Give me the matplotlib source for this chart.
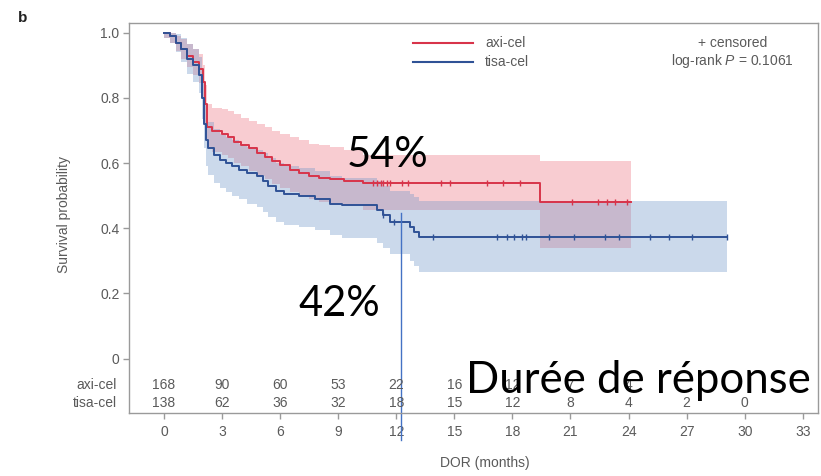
import numpy as np
import matplotlib
matplotlib.use("Agg")
import matplotlib.pyplot as plt

plt.rcParams["font.family"] = ["Liberation Sans", "DejaVu Sans"]
plt.rcParams["mathtext.fontset"] = "custom"
plt.rcParams["mathtext.rm"] = "Liberation Sans"
plt.rcParams["mathtext.it"] = "Liberation Sans:italic"

# Kaplan-Meier step curves (time in months, survival probability) with 95% CI
axi_t = [0, 0.3, 0.6, 0.9, 1.2, 1.5, 1.8, 2.0, 2.1, 2.2, 2.5, 3.0, 3.3, 3.6,
         4.0, 4.4, 4.8, 5.2, 5.6, 6.0, 6.5, 7.0, 7.5, 8.0, 8.6, 9.3, 10.3, 19.4]
axi_s = [1.0, 0.99, 0.97, 0.95, 0.93, 0.91, 0.89, 0.85, 0.78, 0.71, 0.70, 0.69,
         0.68, 0.665, 0.655, 0.645, 0.63, 0.62, 0.605, 0.595, 0.58, 0.57, 0.56,
         0.555, 0.55, 0.545, 0.54, 0.48]
axi_hi = [1.0, 1.0, 0.99, 0.98, 0.965, 0.95, 0.935, 0.90, 0.84, 0.78, 0.77,
          0.765, 0.76, 0.75, 0.74, 0.73, 0.72, 0.71, 0.70, 0.69, 0.68, 0.67,
          0.66, 0.655, 0.65, 0.64, 0.625, 0.605]
axi_lo = [0.985, 0.97, 0.945, 0.92, 0.895, 0.87, 0.845, 0.80, 0.72, 0.645,
          0.635, 0.625, 0.615, 0.60, 0.59, 0.575, 0.56, 0.55, 0.535, 0.525,
          0.51, 0.50, 0.49, 0.48, 0.475, 0.47, 0.455, 0.34]
axi_end = 24.1
axi_cens = [10.8, 11.0, 11.2, 11.3, 11.5, 11.7, 12.3, 12.6, 14.3, 14.8, 16.7,
            17.5, 18.4, 21.1, 22.4, 22.9, 23.3, 23.9]

tisa_t = [0, 0.3, 0.6, 0.9, 1.2, 1.5, 1.8, 1.95, 2.05, 2.15, 2.3, 2.6, 2.9,
          3.2, 3.5, 3.9, 4.3, 4.8, 5.1, 5.4, 5.8, 6.2, 7.0, 7.8, 8.6, 9.2,
          11.0, 11.3, 11.7, 12.7, 12.9, 13.2]
tisa_s = [1.0, 0.99, 0.97, 0.95, 0.92, 0.90, 0.87, 0.80, 0.72, 0.67, 0.645,
          0.625, 0.61, 0.60, 0.59, 0.58, 0.57, 0.56, 0.545, 0.53, 0.515, 0.505,
          0.50, 0.49, 0.475, 0.47, 0.455, 0.44, 0.42, 0.405, 0.39, 0.372]
tisa_hi = [1.0, 1.0, 0.995, 0.985, 0.965, 0.95, 0.925, 0.865, 0.795, 0.75,
           0.725, 0.705, 0.69, 0.68, 0.67, 0.66, 0.65, 0.64, 0.63, 0.615, 0.60,
           0.59, 0.585, 0.575, 0.56, 0.555, 0.545, 0.53, 0.515, 0.505, 0.495,
           0.485]
tisa_lo = [0.985, 0.97, 0.94, 0.91, 0.875, 0.85, 0.815, 0.735, 0.645, 0.59,
           0.565, 0.54, 0.525, 0.51, 0.50, 0.49, 0.475, 0.465, 0.45, 0.435,
           0.42, 0.41, 0.405, 0.395, 0.38, 0.37, 0.355, 0.34, 0.32, 0.30,
           0.285, 0.267]
tisa_end = 29.1
tisa_cens = [11.3, 11.9, 13.9, 17.2, 17.7, 18.1, 18.5, 18.7, 19.9, 21.2, 22.8,
             23.5, 25.1, 26.1, 27.3, 29.1]

# Numbers at risk
risk_times = [0, 3, 6, 9, 12, 15, 18, 21, 24, 27, 30]
axi_risk = [168, 90, 60, 53, 22, 16, 12, 7, 4]
tisa_risk = [138, 62, 36, 32, 18, 15, 12, 8, 4, 2, 0]

x_ticks = [0, 3, 6, 9, 12, 15, 18, 21, 24, 27, 30, 33]
y_ticks = [0, 0.2, 0.4, 0.6, 0.8, 1.0]
y_ticklabels = ["0", "0.2", "0.4", "0.6", "0.8", "1.0"]

landmark_month = 12
log_rank_p = 0.1061

RED = "#d8344a"
BLUE = "#2f5296"
RED_FILL = "#ec7480"
BLUE_FILL = "#7096c8"
GREY_TXT = "#5a5a5a"
GREY_AX = "#9a9a9a"


def extend(times, vals, end):
    return np.append(times, end), np.append(vals, vals[-1])


def value_at(times, vals, x):
    idx = np.searchsorted(times, x, side="right") - 1
    return np.asarray(vals)[idx]


fig = plt.figure(figsize=(8.21, 4.76), dpi=100)
ax = fig.add_axes([0.1575, 0.1330, 0.8392, 0.8193])
ax.set_xlim(-1.79, 33.8)
ax.set_ylim(-0.166, 1.031)

for times, s, lo, hi, end, cens, col, fcol in [
    (axi_t, axi_s, axi_lo, axi_hi, axi_end, axi_cens, RED, RED_FILL),
    (tisa_t, tisa_s, tisa_lo, tisa_hi, tisa_end, tisa_cens, BLUE, BLUE_FILL),
]:
    tt, ss = extend(times, s, end)
    _, ll = extend(times, lo, end)
    _, hh = extend(times, hi, end)
    ax.fill_between(tt, ll, hh, step="post", color=fcol, alpha=0.36, lw=0)
    ax.step(tt, ss, where="post", color=col, lw=1.4)
    cy = value_at(times, s, np.array(cens))
    ax.plot(cens, cy, ls="none", marker="|", ms=5, mew=1.0, color=col)

# spines / ticks
for sp in ax.spines.values():
    sp.set_color(GREY_AX)
    sp.set_linewidth(1.0)
ax.set_xticks(x_ticks)
ax.set_xticklabels([str(v) for v in x_ticks])
ax.set_yticks(y_ticks)
ax.set_yticklabels(y_ticklabels)
ax.tick_params(axis="both", colors=GREY_AX, labelcolor=GREY_TXT, labelsize=10,
               length=4, width=1)
ax.tick_params(axis="x", pad=5)
ax.tick_params(axis="y", pad=3)

ax.text(-0.095, 0.507, "Survival probability", transform=ax.transAxes,
        rotation=90, ha="center", va="center", fontsize=10, color=GREY_TXT)
ax.text(0.516, -0.129, "DOR (months)", transform=ax.transAxes,
        ha="center", va="center", fontsize=10, color=GREY_TXT)

# numbers at risk
row_y = {"axi-cel": -0.081, "tisa-cel": -0.136}
for name, counts in [("axi-cel", axi_risk), ("tisa-cel", tisa_risk)]:
    ax.text(-2.45, row_y[name], name, ha="right", va="center", fontsize=10,
            color=GREY_TXT, clip_on=False)
    for t, n in zip(risk_times, counts):
        ax.text(t, row_y[name], str(n), ha="center", va="center", fontsize=10,
                color=GREY_TXT)

# legend
for yy, col, lab in [(0.968, RED, "axi-cel"), (0.910, BLUE, "tisa-cel")]:
    ax.plot([12.86, 15.96], [yy, yy], color=col, lw=1.5)
    ax.text(16.6, yy, lab, ha="left", va="center", fontsize=10, color=GREY_TXT)
ax.text(29.35, 0.968, "+ censored", ha="center", va="center", fontsize=10,
        color=GREY_TXT)
ax.text(29.35, 0.912, "log-rank $P$ = %.4f" % log_rank_p, ha="center",
        va="center", fontsize=10, color=GREY_TXT)

fig.text(0.027, 0.963, "b", ha="center", va="center", fontsize=11,
         fontweight="bold", color="#222222")

# landmark annotations at 12 months
axi_12 = value_at(axi_t, axi_s, landmark_month)
tisa_12 = value_at(tisa_t, tisa_s, landmark_month)
big = dict(fontsize=30, family=["Lato", "DejaVu Sans"], color="black")
ax.text(9.45, 0.588, "%d%%" % round(axi_12 * 100), ha="left",
        va="baseline", **big)
ax.text(6.95, 0.131, "%d%%" % round(tisa_12 * 100), ha="left",
        va="baseline", **big)
ax.text(15.6, -0.105, "Durée de réponse", ha="left", va="baseline",
        clip_on=False, **dict(big, fontsize=31.5))
ax.plot([12.27, 12.27], [tisa_12 + 0.028, -0.25], color="#4472c4", lw=1.0,
        clip_on=False)

fig.savefig("out.png", dpi=100)
